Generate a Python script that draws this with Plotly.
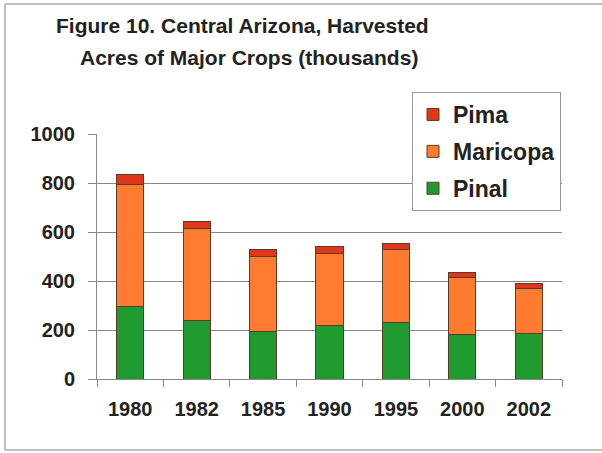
import plotly.graph_objects as go

years = ["1980", "1982", "1985", "1990", "1995", "2000", "2002"]
pinal = [294, 240, 195, 220, 229, 182, 184]
maricopa = [501, 376, 307, 292, 298, 232, 185]
pima = [40, 26, 26, 27, 26, 19, 20]

series_names = ["Pinal", "Maricopa", "Pima"]
series_values = [pinal, maricopa, pima]
series_colors = ["#1f9a2e", "#ff7b30", "#e2361a"]
legend_ranks = [3, 2, 1]

FONT = "Arial, Liberation Sans, sans-serif"

fig = go.Figure()
for name, vals, col, rk in zip(series_names, series_values, series_colors, legend_ranks):
    fig.add_trace(go.Bar(
        x=years, y=vals, name=name,
        marker=dict(color=col, line=dict(color="#5a3a2a", width=1)),
        legendgroup=name, legendrank=rk,
    ))

W, H = 602, 453
L, R, T, B = 97, 40, 134, 74
pw, ph = W - L - R, H - T - B

def px(x):
    return (x - L) / pw

def py(y):
    return (H - B - y) / ph

frame = dict(color="#aaa", width=1.5)
shapes = [
    dict(type="line", xref="paper", yref="paper", x0=px(5), x1=px(700), y0=py(4), y1=py(4), line=frame, layer="below"),
    dict(type="line", xref="paper", yref="paper", x0=px(5), x1=px(700), y0=py(450), y1=py(450), line=frame, layer="below"),
    dict(type="line", xref="paper", yref="paper", x0=px(5), x1=px(5), y0=py(4), y1=py(450), line=frame, layer="below"),
]

fig.update_layout(
    width=W, height=H,
    margin=dict(l=L, r=R, t=T, b=B),
    barmode="stack",
    bargap=0.59,
    plot_bgcolor="white",
    paper_bgcolor="white",
    font=dict(family=FONT, color="#222", size=20, weight="bold"),
    showlegend=True,
    legend=dict(
        x=px(412), y=py(92), xanchor="left", yanchor="top",
        bgcolor="white", bordercolor="#999", borderwidth=1,
        font=dict(size=23, family=FONT, weight="bold", color="#222"),
        traceorder="grouped", tracegroupgap=4,
    ),
    xaxis=dict(
        type="category", showline=True, linecolor="#888", linewidth=1,
        ticks="outside", tickson="boundaries", ticklen=7, tickcolor="#888",
        tickfont=dict(size=20, family=FONT, weight="bold", color="#222"),
        showgrid=False, ticklabelstandoff=12,
    ),
    yaxis=dict(
        range=[0, 1000], tickvals=[0, 200, 400, 600, 800, 1000],
        showline=True, linecolor="#888", linewidth=1,
        ticks="outside", ticklen=8, tickcolor="#888",
        showgrid=True, gridcolor="#888", gridwidth=1,
        tickfont=dict(size=20, family=FONT, weight="bold", color="#222"),
        ticklabelstandoff=9, zeroline=False,
    ),
    shapes=shapes,
    annotations=[
        dict(text="Figure 10. Central Arizona, Harvested", xref="paper", yref="paper",
             x=px(242), y=py(25), xanchor="center", yanchor="middle", showarrow=False,
             font=dict(size=21, family=FONT, weight="bold", color="#222")),
        dict(text="Acres of Major Crops (thousands)", xref="paper", yref="paper",
             x=px(249), y=py(57), xanchor="center", yanchor="middle", showarrow=False,
             font=dict(size=21, family=FONT, weight="bold", color="#222")),
    ],
)

fig.write_html("out.html", config={"displayModeBar": False},
               post_script="document.body.style.margin='0';document.body.style.overflow='hidden';document.documentElement.style.overflow='hidden';")
